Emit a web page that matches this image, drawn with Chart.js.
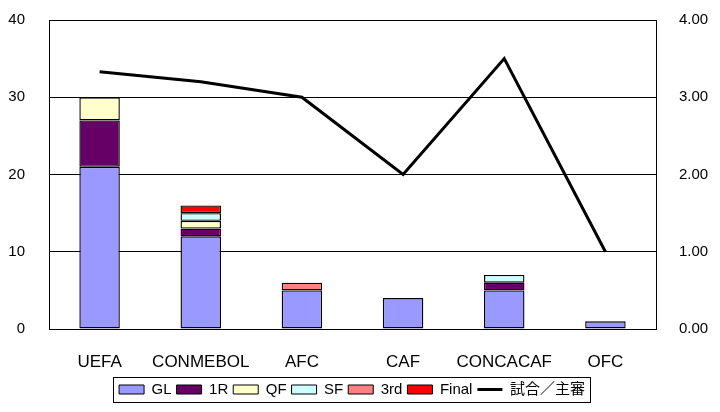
<!DOCTYPE html>
<html>
<head>
<meta charset="utf-8">
<script src="https://cdn.jsdelivr.net/npm/chart.js@4/dist/chart.umd.min.js"></script>
<style>
html,body{margin:0;padding:0;background:#fff;}
#wrap{width:720px;height:412px;position:relative;}
</style>
</head>
<body>
<div id="wrap"><canvas id="c" width="720" height="412"></canvas></div>
<script>
const categories = ["UEFA", "CONMEBOL", "AFC", "CAF", "CONCACAF", "OFC"];
const GL    = [21, 12, 5, 4, 5, 1];
const R1    = [6, 1, null, null, 1, null];
const QF    = [3, 1, null, null, null, null];
const SF    = [null, 1, null, null, 1, null];
const THIRD = [null, null, 1, null, null, null];
const FINAL = [null, 1, null, null, null, null];
const matchesPerReferee = [3.33, 3.2, 3.0, 2.0, 3.5, 1.0];
const leftTicks = [0, 10, 20, 30, 40];
const rightTicks = [0, 1, 2, 3, 4];

const FONT = "'Liberation Sans', 'Noto Sans CJK JP', sans-serif";
Chart.defaults.font.family = FONT;
Chart.defaults.color = '#000';

function barSet(label, data, color) {
  return {
    type: 'bar', label, data, backgroundColor: color,
    borderColor: '#000', borderWidth: 1.4, borderSkipped: false,
    yAxisID: 'y', stack: 's',
    barPercentage: 0.4, categoryPercentage: 1.0
  };
}

const legendShift = {
  id: 'legendShift',
  afterLayout(chart) {
    const l = chart.legend;
    if (l) { l.right -= 16; l.width -= 16; }
  }
};

const legendBorder = {
  id: 'legendBorder',
  afterDraw(chart) {
    const hb = chart.legend && chart.legend.legendHitBoxes;
    if (!hb || !hb.length) return;
    let minX = Infinity, maxX = -Infinity, cy = 0;
    hb.forEach(h => { minX = Math.min(minX, h.left); maxX = Math.max(maxX, h.left + h.width); cy += h.top + h.height / 2; });
    cy /= hb.length;
    const ctx = chart.ctx;
    ctx.save();
    ctx.strokeStyle = '#000';
    ctx.lineWidth = 1;
    const x0 = Math.round(minX - 6) + 0.5, x1 = Math.round(maxX + 5) + 0.5;
    const y0 = Math.round(cy - 12.5) + 0.5, y1 = Math.round(cy + 12.5) + 0.5;
    ctx.strokeRect(x0, y0, x1 - x0, y1 - y0);
    ctx.restore();
  }
};

function noVPad(s) { s.paddingTop = 0; s.paddingBottom = 0; }

new Chart(document.getElementById('c'), {
  data: {
    labels: categories,
    datasets: [
      barSet('GL', GL, '#9999FF'),
      barSet('1R', R1, '#660066'),
      barSet('QF', QF, '#FFFFCC'),
      barSet('SF', SF, '#CCFFFF'),
      barSet('3rd', THIRD, '#FF8080'),
      barSet('Final', FINAL, '#FF0000'),
      {
        type: 'line', label: '試合／主審', data: matchesPerReferee,
        borderColor: '#000', backgroundColor: '#000', borderWidth: 3,
        pointRadius: 0, tension: 0, yAxisID: 'y1', fill: false
      }
    ]
  },
  options: {
    responsive: false,
    animation: false,
    events: [],
    layout: { padding: { top: 20, bottom: 5, left: 0, right: 0 } },
    plugins: {
      tooltip: { enabled: false },
      legend: {
        position: 'bottom',
        labels: {
          usePointStyle: true,
          pointStyleWidth: 25,
          boxHeight: 9,
          padding: 5,
          color: '#000',
          font: { size: 15, family: FONT },
          generateLabels(chart) {
            const items = Chart.defaults.plugins.legend.labels.generateLabels(chart);
            items.forEach((it, i) => {
              if (i < 6) { it.pointStyle = 'rect'; it.lineWidth = 1; it.strokeStyle = '#000'; }
              else { it.pointStyle = 'line'; it.lineWidth = 3; it.strokeStyle = '#000'; it.fillStyle = '#000'; }
            });
            return items;
          }
        }
      }
    },
    scales: {
      x: {
        stacked: true,
        grid: { display: false, drawTicks: false },
        border: { display: true, color: '#000', width: 1 },
        ticks: { padding: 23, color: '#000', font: { size: 17, family: FONT }, maxRotation: 0, autoSkip: false },
        afterFit(s) { s.height = 48; }
      },
      y: {
        position: 'left',
        stacked: true,
        min: 0, max: 40,
        afterBuildTicks(s) { s.ticks = leftTicks.map(v => ({ value: v })); },
        grid: { color: '#000', lineWidth: 1, drawTicks: false },
        border: { display: true, color: '#000', width: 1 },
        ticks: { padding: 24, color: '#000', font: { size: 15, family: FONT } },
        afterFit(s) { s.width = 49; noVPad(s); }
      },
      y1: {
        position: 'right',
        min: 0, max: 4,
        afterBuildTicks(s) { s.ticks = rightTicks.map(v => ({ value: v })); },
        grid: { display: false, drawTicks: false },
        border: { display: true, color: '#000', width: 1 },
        ticks: { padding: 23, color: '#000', font: { size: 15, family: FONT }, callback: v => Number(v).toFixed(2) },
        afterFit(s) { s.width = 64; noVPad(s); }
      }
    }
  },
  plugins: [legendShift, legendBorder]
});
</script>
</body>
</html>
